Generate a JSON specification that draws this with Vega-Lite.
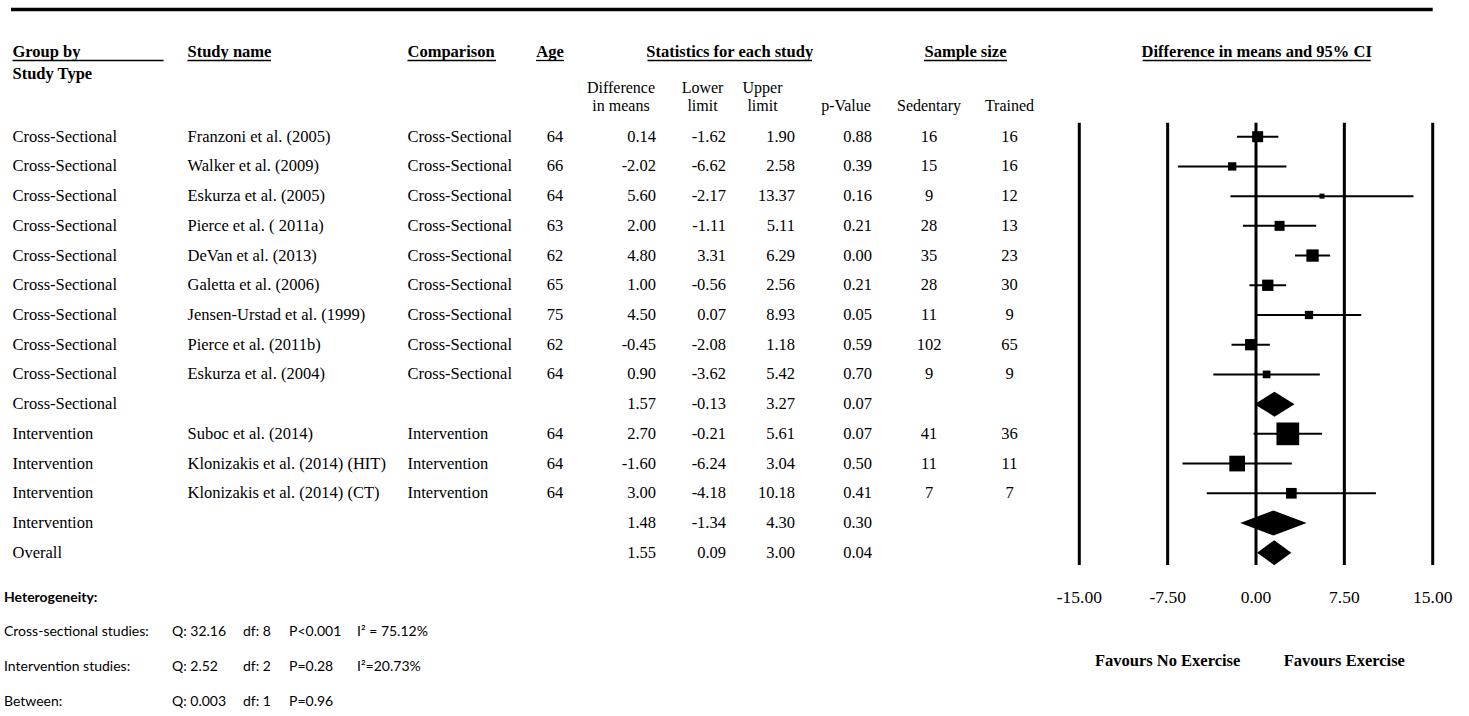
{
  "$schema": "https://vega.github.io/schema/vega-lite/v6.json",
  "width": 1469,
  "height": 716,
  "padding": 0,
  "autosize": {"type": "none"},
  "background": "white",
  "config": {
    "view": {"stroke": null},
    "axis": {"disable": true},
    "locale": {"number": {"decimal": ".", "thousands": ",", "grouping": [3], "currency": ["$", ""], "minus": "-"}},
    "text": {"font": "Liberation Serif", "fontSize": 16.5, "baseline": "middle", "color": "black"}
  },
  "datasets": {
    "studies": [
      {"row": 1, "group": "Cross-Sectional", "study": "Franzoni et al. (2005)", "comparison": "Cross-Sectional", "age": 64, "diff": 0.14, "lower": -1.62, "upper": 1.90, "p": 0.88, "sed": 16, "trained": 16, "weight": 23.5, "kind": "study"},
      {"row": 2, "group": "Cross-Sectional", "study": "Walker et al. (2009)", "comparison": "Cross-Sectional", "age": 66, "diff": -2.02, "lower": -6.62, "upper": 2.58, "p": 0.39, "sed": 15, "trained": 16, "weight": 13.4, "kind": "study"},
      {"row": 3, "group": "Cross-Sectional", "study": "Eskurza et al. (2005)", "comparison": "Cross-Sectional", "age": 64, "diff": 5.60, "lower": -2.17, "upper": 13.37, "p": 0.16, "sed": 9, "trained": 12, "weight": 4.9, "kind": "study"},
      {"row": 4, "group": "Cross-Sectional", "study": "Pierce et al. ( 2011a)", "comparison": "Cross-Sectional", "age": 63, "diff": 2.00, "lower": -1.11, "upper": 5.11, "p": 0.21, "sed": 28, "trained": 13, "weight": 19.4, "kind": "study"},
      {"row": 5, "group": "Cross-Sectional", "study": "DeVan et al. (2013)", "comparison": "Cross-Sectional", "age": 62, "diff": 4.80, "lower": 3.31, "upper": 6.29, "p": 0.00, "sed": 35, "trained": 23, "weight": 29.4, "kind": "study"},
      {"row": 6, "group": "Cross-Sectional", "study": "Galetta et al. (2006)", "comparison": "Cross-Sectional", "age": 65, "diff": 1.00, "lower": -0.56, "upper": 2.56, "p": 0.21, "sed": 28, "trained": 30, "weight": 24.8, "kind": "study"},
      {"row": 7, "group": "Cross-Sectional", "study": "Jensen-Urstad et al. (1999)", "comparison": "Cross-Sectional", "age": 75, "diff": 4.50, "lower": 0.07, "upper": 8.93, "p": 0.05, "sed": 11, "trained": 9, "weight": 13.4, "kind": "study"},
      {"row": 8, "group": "Cross-Sectional", "study": "Pierce et al. (2011b)", "comparison": "Cross-Sectional", "age": 62, "diff": -0.45, "lower": -2.08, "upper": 1.18, "p": 0.59, "sed": 102, "trained": 65, "weight": 24.8, "kind": "study"},
      {"row": 9, "group": "Cross-Sectional", "study": "Eskurza et al. (2004)", "comparison": "Cross-Sectional", "age": 64, "diff": 0.90, "lower": -3.62, "upper": 5.42, "p": 0.70, "sed": 9, "trained": 9, "weight": 11.5, "kind": "study"},
      {"row": 10, "group": "Cross-Sectional", "study": "", "comparison": "", "diff": 1.57, "lower": -0.13, "upper": 3.27, "p": 0.07, "kind": "summary"},
      {"row": 11, "group": "Intervention", "study": "Suboc et al. (2014)", "comparison": "Intervention", "age": 64, "diff": 2.70, "lower": -0.21, "upper": 5.61, "p": 0.07, "sed": 41, "trained": 36, "weight": 100, "kind": "study"},
      {"row": 12, "group": "Intervention", "study": "Klonizakis et al. (2014) (HIT)", "comparison": "Intervention", "age": 64, "diff": -1.60, "lower": -6.24, "upper": 3.04, "p": 0.50, "sed": 11, "trained": 11, "weight": 47.9, "kind": "study"},
      {"row": 13, "group": "Intervention", "study": "Klonizakis et al. (2014) (CT)", "comparison": "Intervention", "age": 64, "diff": 3.00, "lower": -4.18, "upper": 10.18, "p": 0.41, "sed": 7, "trained": 7, "weight": 22.2, "kind": "study"},
      {"row": 14, "group": "Intervention", "study": "", "comparison": "", "diff": 1.48, "lower": -1.34, "upper": 4.30, "p": 0.30, "kind": "summary"},
      {"row": 15, "group": "Overall", "study": "", "comparison": "", "diff": 1.55, "lower": 0.09, "upper": 3.00, "p": 0.04, "kind": "summary"}
    ],
    "headLeft": [
      {"text": "Group by", "row": -5, "col": 2, "u1": 2, "u2": 3},
      {"text": "Study Type", "row": -4, "col": 2},
      {"text": "Study name", "row": -5, "col": 5, "u1": 5, "u2": 7},
      {"text": "Comparison", "row": -5, "col": 10, "u1": 10, "u2": 11}
    ],
    "headCenter": [
      {"text": "Age", "row": -5, "col": 13, "u1": 12, "u2": 15},
      {"text": "Statistics for each study", "row": -5, "col": 21, "u1": 17, "u2": 24},
      {"text": "Sample size", "row": -5, "col": 29, "u1": 27, "u2": 30},
      {"text": "Difference in means and 95% CI", "row": -5, "col": 33, "u1": 32, "u2": 34}
    ],
    "subHead": [
      {"text": "Difference", "row": -3, "col": 16},
      {"text": "in means", "row": -2, "col": 16},
      {"text": "Lower", "row": -3, "col": 19},
      {"text": "limit", "row": -2, "col": 19},
      {"text": "Upper", "row": -3, "col": 22},
      {"text": "limit", "row": -2, "col": 22},
      {"text": "p-Value", "row": -2, "col": 25},
      {"text": "Sedentary", "row": -2, "col": 28},
      {"text": "Trained", "row": -2, "col": 31}
    ],
    "frame": [{"row": -6, "from": 1, "to": 35}],
    "hetTitle": [{"row": 17, "text": "Heterogeneity:"}],
    "het": [
      {"row": 18, "label": "Cross-sectional studies:", "Q": "Q: 32.16", "df": "df: 8", "P": "P<0.001", "I2": "I² = 75.12%"},
      {"row": 20, "label": "Intervention studies:", "Q": "Q: 2.52", "df": "df: 2", "P": "P=0.28", "I2": "I²=20.73%"},
      {"row": 21, "label": "Between:", "Q": "Q: 0.003", "df": "df: 1", "P": "P=0.96", "I2": ""}
    ],
    "ticks": [
      {"tick": -15, "top": 0, "bottom": 16, "labelRow": 17},
      {"tick": -7.5, "top": 0, "bottom": 16, "labelRow": 17},
      {"tick": 0, "top": 0, "bottom": 16, "labelRow": 17},
      {"tick": 7.5, "top": 0, "bottom": 16, "labelRow": 17},
      {"tick": 15, "top": 0, "bottom": 16, "labelRow": 17}
    ],
    "favours": [{"pos": -7.5, "row": 19, "label": "Favours No Exercise"}, {"pos": 7.5, "row": 19, "label": "Favours Exercise"}]
  },
  "resolve": {"scale": {"x": "independent"}},
  "layer": [
    {
      "layer": [
        {
          "data": {"name": "frame"},
          "mark": {"type": "rule", "strokeWidth": 3.5, "color": "black"},
          "encoding": {
            "x": {
              "field": "from",
              "type": "quantitative",
              "axis": null,
              "scale": {
                "domain": [0, 1, 2, 3, 4, 5, 6, 7, 8, 9, 10, 11, 12, 13, 14, 15, 16, 17, 18, 19, 20, 21, 22, 23, 24, 25, 26, 27, 28, 29, 30, 31, 32, 33, 34, 35],
                "range": [4, 11, 12.5, 163.6, 172, 187.5, 243, 271, 289, 357, 407.5, 496, 536, 550, 555, 564, 621, 647.5, 656, 702.5, 726, 729.7, 762.5, 795, 812, 846, 872, 924, 929, 965.5, 1007, 1009.5, 1142.7, 1256.7, 1370.7, 1432.7],
                "nice": false,
                "zero": false
              }
            },
            "x2": {"field": "to"},
            "y": {
              "field": "row",
              "type": "quantitative",
              "axis": null,
              "scale": {
                "domain": [-6, -5, -4, -3, -2, 0, 1, 15, 16, 17, 18, 19, 20, 21],
                "range": [9.5, 52, 74, 87.5, 106, 122.7, 136.7, 552.7, 565, 597.5, 632, 660.5, 667, 702],
                "nice": false,
                "zero": false
              }
            }
          }
        },
        {
          "data": {"name": "headLeft"},
          "mark": {"type": "text", "align": "left", "fontWeight": "bold"},
          "encoding": {"x": {"field": "col", "type": "quantitative", "axis": null}, "y": {"field": "row", "type": "quantitative", "axis": null}, "text": {"field": "text", "type": "nominal"}}
        },
        {
          "data": {"name": "headCenter"},
          "mark": {"type": "text", "align": "center", "fontWeight": "bold"},
          "encoding": {"x": {"field": "col", "type": "quantitative", "axis": null}, "y": {"field": "row", "type": "quantitative", "axis": null}, "text": {"field": "text", "type": "nominal"}}
        },
        {
          "data": {"name": "headLeft"},
          "transform": [{"filter": {"field": "u1", "valid": true}}],
          "mark": {"type": "rule", "strokeWidth": 1.3, "color": "black", "yOffset": 8.5},
          "encoding": {"x": {"field": "u1", "type": "quantitative", "axis": null}, "x2": {"field": "u2"}, "y": {"field": "row", "type": "quantitative", "axis": null}}
        },
        {
          "data": {"name": "headCenter"},
          "mark": {"type": "rule", "strokeWidth": 1.3, "color": "black", "yOffset": 8.5},
          "encoding": {"x": {"field": "u1", "type": "quantitative", "axis": null}, "x2": {"field": "u2"}, "y": {"field": "row", "type": "quantitative", "axis": null}}
        },
        {
          "data": {"name": "subHead"},
          "mark": {"type": "text", "align": "center", "fontSize": 16},
          "encoding": {"x": {"field": "col", "type": "quantitative", "axis": null}, "y": {"field": "row", "type": "quantitative", "axis": null}, "text": {"field": "text", "type": "nominal"}}
        },
        {
          "data": {"name": "studies"},
          "mark": {"type": "text", "align": "left"},
          "encoding": {"x": {"datum": 2, "type": "quantitative", "axis": null}, "y": {"field": "row", "type": "quantitative", "axis": null}, "text": {"field": "group", "type": "nominal"}}
        },
        {
          "data": {"name": "studies"},
          "mark": {"type": "text", "align": "left"},
          "encoding": {"x": {"datum": 5, "type": "quantitative", "axis": null}, "y": {"field": "row", "type": "quantitative", "axis": null}, "text": {"field": "study", "type": "nominal"}}
        },
        {
          "data": {"name": "studies"},
          "mark": {"type": "text", "align": "left"},
          "encoding": {"x": {"datum": 10, "type": "quantitative", "axis": null}, "y": {"field": "row", "type": "quantitative", "axis": null}, "text": {"field": "comparison", "type": "nominal"}}
        },
        {
          "data": {"name": "studies"},
          "transform": [{"filter": {"field": "age", "valid": true}}],
          "mark": {"type": "text", "align": "center"},
          "encoding": {"x": {"datum": 14, "type": "quantitative", "axis": null}, "y": {"field": "row", "type": "quantitative", "axis": null}, "text": {"field": "age", "type": "quantitative", "format": "d"}}
        },
        {
          "data": {"name": "studies"},
          "mark": {"type": "text", "align": "right"},
          "encoding": {"x": {"datum": 18, "type": "quantitative", "axis": null}, "y": {"field": "row", "type": "quantitative", "axis": null}, "text": {"field": "diff", "type": "quantitative", "format": ".2f"}}
        },
        {
          "data": {"name": "studies"},
          "mark": {"type": "text", "align": "right"},
          "encoding": {"x": {"datum": 20, "type": "quantitative", "axis": null}, "y": {"field": "row", "type": "quantitative", "axis": null}, "text": {"field": "lower", "type": "quantitative", "format": ".2f"}}
        },
        {
          "data": {"name": "studies"},
          "mark": {"type": "text", "align": "right"},
          "encoding": {"x": {"datum": 23, "type": "quantitative", "axis": null}, "y": {"field": "row", "type": "quantitative", "axis": null}, "text": {"field": "upper", "type": "quantitative", "format": ".2f"}}
        },
        {
          "data": {"name": "studies"},
          "mark": {"type": "text", "align": "right"},
          "encoding": {"x": {"datum": 26, "type": "quantitative", "axis": null}, "y": {"field": "row", "type": "quantitative", "axis": null}, "text": {"field": "p", "type": "quantitative", "format": ".2f"}}
        },
        {
          "data": {"name": "studies"},
          "transform": [{"filter": {"field": "sed", "valid": true}}],
          "mark": {"type": "text", "align": "center"},
          "encoding": {"x": {"datum": 28, "type": "quantitative", "axis": null}, "y": {"field": "row", "type": "quantitative", "axis": null}, "text": {"field": "sed", "type": "quantitative", "format": "d"}}
        },
        {
          "data": {"name": "studies"},
          "transform": [{"filter": {"field": "trained", "valid": true}}],
          "mark": {"type": "text", "align": "center"},
          "encoding": {"x": {"datum": 31, "type": "quantitative", "axis": null}, "y": {"field": "row", "type": "quantitative", "axis": null}, "text": {"field": "trained", "type": "quantitative", "format": "d"}}
        },
        {
          "data": {"name": "hetTitle"},
          "mark": {"type": "text", "align": "left", "font": "Lato", "fontSize": 14, "fontWeight": "bold"},
          "encoding": {"x": {"datum": 0, "type": "quantitative", "axis": null}, "y": {"field": "row", "type": "quantitative", "axis": null}, "text": {"field": "text", "type": "nominal"}}
        },
        {
          "data": {"name": "het"},
          "mark": {"type": "text", "align": "left", "font": "Lato", "fontSize": 14},
          "encoding": {"x": {"datum": 0, "type": "quantitative", "axis": null}, "y": {"field": "row", "type": "quantitative", "axis": null}, "text": {"field": "label", "type": "nominal"}}
        },
        {
          "data": {"name": "het"},
          "mark": {"type": "text", "align": "left", "font": "Lato", "fontSize": 14},
          "encoding": {"x": {"datum": 4, "type": "quantitative", "axis": null}, "y": {"field": "row", "type": "quantitative", "axis": null}, "text": {"field": "Q", "type": "nominal"}}
        },
        {
          "data": {"name": "het"},
          "mark": {"type": "text", "align": "left", "font": "Lato", "fontSize": 14},
          "encoding": {"x": {"datum": 6, "type": "quantitative", "axis": null}, "y": {"field": "row", "type": "quantitative", "axis": null}, "text": {"field": "df", "type": "nominal"}}
        },
        {
          "data": {"name": "het"},
          "mark": {"type": "text", "align": "left", "font": "Lato", "fontSize": 14},
          "encoding": {"x": {"datum": 8, "type": "quantitative", "axis": null}, "y": {"field": "row", "type": "quantitative", "axis": null}, "text": {"field": "P", "type": "nominal"}}
        },
        {
          "data": {"name": "het"},
          "mark": {"type": "text", "align": "left", "font": "Lato", "fontSize": 14},
          "encoding": {"x": {"datum": 9, "type": "quantitative", "axis": null}, "y": {"field": "row", "type": "quantitative", "axis": null}, "text": {"field": "I2", "type": "nominal"}}
        }
      ]
    },
    {
      "layer": [
        {
          "data": {"name": "ticks"},
          "mark": {"type": "rule", "strokeWidth": 3, "color": "black"},
          "encoding": {
            "x": {"field": "tick", "type": "quantitative", "axis": null, "scale": {"domain": [-15, 15], "range": [1079.3, 1432.7], "nice": false, "zero": false}},
            "y": {
              "field": "top",
              "type": "quantitative",
              "axis": null,
              "scale": {
                "domain": [-6, -5, -4, -3, -2, 0, 1, 15, 16, 17, 18, 19, 20, 21],
                "range": [9.5, 52, 74, 87.5, 106, 122.7, 136.7, 552.7, 565, 597.5, 632, 660.5, 667, 702],
                "nice": false,
                "zero": false
              }
            },
            "y2": {"field": "bottom"}
          }
        },
        {
          "data": {"name": "ticks"},
          "mark": {"type": "text", "align": "center", "fontSize": 17.5},
          "encoding": {
            "x": {"field": "tick", "type": "quantitative", "axis": null},
            "y": {"field": "labelRow", "type": "quantitative", "axis": null},
            "text": {"field": "tick", "type": "quantitative", "format": ".2f"}
          }
        },
        {
          "data": {"name": "favours"},
          "mark": {"type": "text", "align": "center", "fontWeight": "bold"},
          "encoding": {
            "x": {"field": "pos", "type": "quantitative", "axis": null},
            "y": {"field": "row", "type": "quantitative", "axis": null},
            "text": {"field": "label", "type": "nominal"}
          }
        },
        {
          "data": {"name": "studies"},
          "transform": [{"filter": "datum.kind === 'study'"}],
          "mark": {"type": "rule", "strokeWidth": 2, "color": "black"},
          "encoding": {
            "x": {"field": "lower", "type": "quantitative", "axis": null},
            "x2": {"field": "upper"},
            "y": {"field": "row", "type": "quantitative", "axis": null}
          }
        },
        {
          "data": {"name": "studies"},
          "transform": [{"filter": "datum.kind === 'study'"}],
          "mark": {"type": "point", "shape": "square", "filled": true, "color": "black", "opacity": 1, "strokeWidth": 0},
          "encoding": {
            "x": {"field": "diff", "type": "quantitative", "axis": null},
            "y": {"field": "row", "type": "quantitative", "axis": null},
            "size": {"field": "weight", "type": "quantitative", "legend": null, "scale": {"type": "linear", "zero": true, "domain": [0, 100], "range": [0, 515]}}
          }
        },
        {
          "data": {"name": "studies"},
          "transform": [
            {"filter": "datum.kind === 'summary'"},
            {"fold": ["lower", "diff", "upper"], "as": ["part", "value"]}
          ],
          "mark": {
            "type": "area",
            "orient": "vertical",
            "color": "black",
            "yOffset": {"expr": "datum.part === 'diff' ? -12.5 : 0"},
            "y2Offset": {"expr": "datum.part === 'diff' ? 12.5 : 0"}
          },
          "encoding": {
            "x": {"field": "value", "type": "quantitative", "axis": null},
            "y": {"field": "row", "type": "quantitative", "axis": null, "stack": null},
            "y2": {"field": "row"},
            "detail": {"field": "row", "type": "nominal"}
          }
        }
      ]
    }
  ]
}
